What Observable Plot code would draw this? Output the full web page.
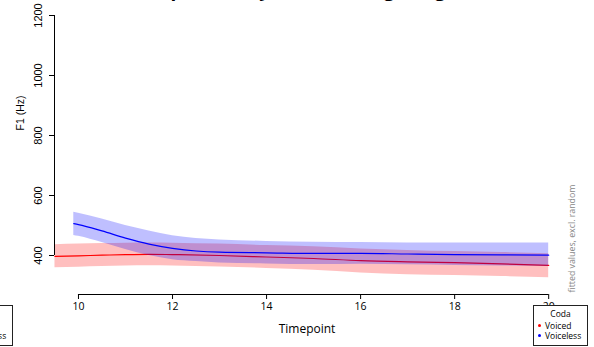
<!DOCTYPE html>
<html>
<head>
<meta charset="utf-8">
<script src="https://cdn.jsdelivr.net/npm/d3@7"></script>
<script src="https://cdn.jsdelivr.net/npm/@observablehq/plot@0.6"></script>
<style>
  html, body { margin: 0; padding: 0; background: #fff; }
  #wrap { position: relative; width: 594px; height: 347px; overflow: hidden; font-family: "Open Sans", sans-serif; }
  #title { position: absolute; left: 0; width: 620px; top: -19px; text-align: center; font: bold 19px/16px "Open Sans", sans-serif; color: #000; white-space: nowrap; }
  .legend { position: absolute; width: 53px; height: 39px; border: 1px solid #222; background: #fff; font-size: 8.5px; color: #000; }
  .legend .l { position: absolute; white-space: nowrap; line-height: 10px; }
  .legend .ttl { left: 0; width: 53px; text-align: center; top: 3px; }
  .legend .dot { display: inline-block; width: 3px; height: 3px; border-radius: 50%; margin-right: 4px; vertical-align: middle; position: relative; top: -1px; }
  #chart { position: absolute; left: 0; top: 0; }
</style>
</head>
<body>
<div id="wrap">
  <div id="chart"></div>
  <div id="title">F1 comparison by Coda voicing, long vowels</div>
  <div class="legend" id="legL" style="left:-42px; top:305px;"></div>
  <div class="legend" id="legR" style="left:533px; top:305px;"></div>
</div>
<script>
// ---- data ----
const redT   = [9.5, 10, 10.5, 11, 11.5, 12, 13, 14, 15, 16, 17, 18, 19, 20];
const redFit = [397, 399, 401, 403, 404, 403, 400, 395, 390, 383, 379, 376, 372, 367];
const redLo  = [359, 361, 363, 365, 366, 365, 362, 357, 351, 342, 336, 333, 330, 326];
const redHi  = [436, 438, 440, 441, 442, 441, 438, 433, 429, 422, 417, 413, 410, 406];

const blueT   = [9.9, 10, 10.5, 11, 11.5, 12, 12.5, 13, 14, 15, 16, 17, 18, 19, 20];
const blueFit = [506, 503, 482, 458, 438, 424, 415, 411, 409, 407, 407, 405, 403, 402, 401];
const blueLo  = [467, 464, 443, 420, 400, 386, 380, 375, 372, 370, 371, 369, 367, 365, 363];
const blueHi  = [544, 541, 522, 500, 482, 466, 457, 452, 447, 444, 443, 442, 442, 442, 442];

const xTicks = [10, 12, 14, 16, 18, 20];
const yTicks = [400, 600, 800, 1000, 1200];
const groups = ["Voiced", "Voiceless"];
const groupColors = ["red", "blue"];
const legendTitle = "Coda";
const sideNote = "fitted values, excl. random";

const xDomain = [9.49, 20.4];
const yDomain = [270, 1250];

const red = redT.map((t, i) => ({t, fit: redFit[i], lo: redLo[i], hi: redHi[i]}));
const blue = blueT.map((t, i) => ({t, fit: blueFit[i], lo: blueLo[i], hi: blueHi[i]}));

const chart = Plot.plot({
  width: 594,
  height: 347,
  marginLeft: 54,
  marginRight: 27,
  marginTop: 0,
  marginBottom: 53,
  style: {fontFamily: "Open Sans", fontSize: "10.5px", background: "transparent", overflow: "visible"},
  x: {domain: xDomain},
  y: {domain: yDomain},
  marks: [
    Plot.areaY(red, {x: "t", y1: "lo", y2: "hi", fill: groupColors[0], fillOpacity: 0.25, curve: "monotone-x"}),
    Plot.lineY(red, {x: "t", y: "fit", stroke: groupColors[0], strokeWidth: 1.2, curve: "monotone-x"}),
    Plot.areaY(blue, {x: "t", y1: "lo", y2: "hi", fill: groupColors[1], fillOpacity: 0.25, curve: "monotone-x"}),
    Plot.lineY(blue, {x: "t", y: "fit", stroke: groupColors[1], strokeWidth: 1.2, curve: "monotone-x"}),
    // axes
    Plot.ruleY([yDomain[0]], {x1: xTicks[0], x2: xTicks[xTicks.length - 1], stroke: "#000", strokeWidth: 1}),
    Plot.axisX({ticks: xTicks, tickSize: 5, tickPadding: 3, label: null, fontSize: 10.5, tickFormat: d => String(d)}),
    Plot.ruleX([xDomain[0]], {y1: yTicks[0], y2: yTicks[yTicks.length - 1], stroke: "#000", strokeWidth: 1}),
    Plot.axisY({ticks: yTicks, tickSize: 5, label: null, text: null}),
    Plot.text(yTicks, {x: () => xDomain[0], y: d => d, text: d => String(d), rotate: -90, dx: -16,
      textAnchor: "middle", lineAnchor: "middle", fontFamily: "Liberation Sans", fontSize: 11}),
    Plot.text(["Timepoint"], {frameAnchor: "bottom", dy: 35, dx: -4, lineAnchor: "middle", fontSize: 12}),
    Plot.text(["F1 (Hz)"], {frameAnchor: "left", dx: -34, dy: -17, rotate: -90, fontFamily: "Liberation Sans", fontSize: 10.5, lineAnchor: "middle"}),
    Plot.text([sideNote], {frameAnchor: "bottom-right", dx: 5, dy: -2, rotate: -90, textAnchor: "start", lineAnchor: "middle", fontSize: 8.8, fill: "#888"})
  ]
});
document.getElementById("chart").appendChild(chart);

function fillLegend(el) {
  let html = `<div class="l ttl">${legendTitle}</div>`;
  groups.forEach((g, i) => {
    html += `<div class="l" style="left:4px; top:${15 + i * 10}px;"><span class="dot" style="background:${groupColors[i]}"></span>${g}</div>`;
  });
  el.innerHTML = html;
}
fillLegend(document.getElementById("legL"));
fillLegend(document.getElementById("legR"));
</script>
</body>
</html>
